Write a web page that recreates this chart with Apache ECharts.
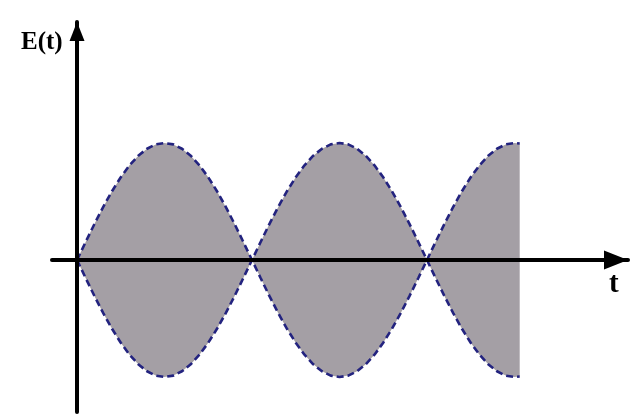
<!DOCTYPE html>
<html><head><meta charset="utf-8">
<script src="https://cdn.jsdelivr.net/npm/echarts@6/dist/echarts.min.js"></script>
<style>html,body{margin:0;padding:0;background:#fff}#c{width:637px;height:414px}</style>
</head><body><div id="c"></div>
<script>
// time samples (units of half-periods) and envelope amplitude
var tValues = [0,0.05,0.1,0.15,0.2,0.25,0.3,0.35,0.4,0.45,0.5,0.55,0.6,0.65,0.7,0.75,0.8,0.85,0.9,0.95,
  1,1.05,1.1,1.15,1.2,1.25,1.3,1.35,1.4,1.45,1.5,1.55,1.6,1.65,1.7,1.75,1.8,1.85,1.9,1.95,
  2,2.05,2.1,2.15,2.2,2.25,2.3,2.35,2.4,2.45,2.5,2.53];
var upperEnvelope = [0,0.156,0.309,0.454,0.588,0.707,0.809,0.891,0.951,0.988,1,0.988,0.951,0.891,0.809,0.707,0.588,0.454,0.309,0.156,
  0,0.156,0.309,0.454,0.588,0.707,0.809,0.891,0.951,0.988,1,0.988,0.951,0.891,0.809,0.707,0.588,0.454,0.309,0.156,
  0,0.156,0.309,0.454,0.588,0.707,0.809,0.891,0.951,0.988,1,0.996];
var lowerEnvelope = upperEnvelope.map(function(v){return -v;});
var xLabel = 't';
var yLabel = 'E(t)';

var chart = echarts.init(document.getElementById('c'));
function pairs(ys){return tValues.map(function(t,i){return [t, ys[i]];});}
var lineStyle = {color:'#23237f', width:2.6, type:[7,4]};
var fill = {color:'#a49fa5', opacity:1};
chart.setOption({
  animation:false,
  backgroundColor:'#ffffff',
  grid:{left:52, right:9, top:22, bottom:2, containLabel:false},
  xAxis:{type:'value', min:-0.143, max:3.149, z:10,
    axisLine:{onZero:true, lineStyle:{color:'#000', width:4}, symbol:['none','triangle'], symbolSize:[19,24], symbolOffset:[0,-12]},
    axisTick:{show:false}, axisLabel:{show:false}, splitLine:{show:false}},
  yAxis:{type:'value', min:-1.299, max:2.034, z:10,
    axisLine:{onZero:true, lineStyle:{color:'#000', width:4}, symbol:['none','triangle'], symbolSize:[15,19], symbolOffset:[0,-9.5]},
    axisTick:{show:false}, axisLabel:{show:false}, splitLine:{show:false}},
  series:[
    {type:'line', data:pairs(upperEnvelope), showSymbol:false, symbol:'none', lineStyle:lineStyle, areaStyle:fill, z:2},
    {type:'line', data:pairs(lowerEnvelope), showSymbol:false, symbol:'none', lineStyle:lineStyle, areaStyle:fill, z:2}
  ],
  graphic:[
    {type:'text', left:21, top:30, style:{text:yLabel, font:'bold 25px "Liberation Serif", serif', fill:'#000'}},
    {type:'text', left:609, top:270, style:{text:xLabel, font:'bold 29px "Liberation Serif", serif', fill:'#000'}}
  ]
});
</script></body></html>
